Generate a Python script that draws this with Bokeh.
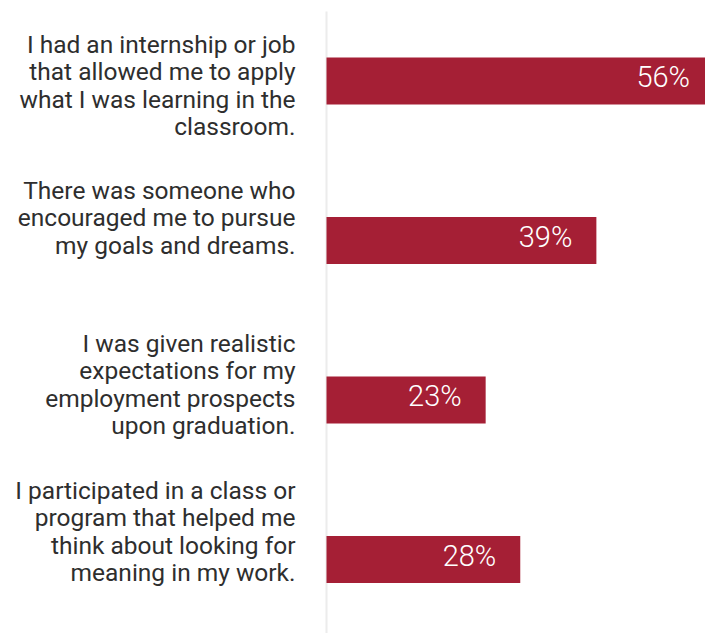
from bokeh.plotting import figure
from bokeh.models import Range1d, ColumnDataSource
from bokeh.core.properties import value
from bokeh.embed import file_html
from bokeh.resources import INLINE

# ---- data ----
categories = [
    "I had an internship or job\nthat allowed me to apply\nwhat I was learning in the\nclassroom.",
    "There was someone who\nencouraged me to pursue\nmy goals and dreams.",
    "I was given realistic\nexpectations for my\nemployment prospects\nupon graduation.",
    "I participated in a class or\nprogram that helped me\nthink about looking for\nmeaning in my work.",
]
percent_values = [56, 39, 23, 28]
value_labels = ["56%", "39%", "23%", "28%"]

# ---- layout (pixels) ----
W, H = 705, 633
PX_PER_UNIT = 6.92
AXIS_PX = 326
ROW_PX = 159.5
FIRST_ROW_PX = 80.5
BAR_PX = 47
LABEL_DY = [4.5, -22.5, -15.5, -28]

BAR_COLOR = "#a51f35"
TEXT_COLOR = "#2e2e2e"

rows = list(range(len(categories)))

src = ColumnDataSource(dict(
    y=rows, v=percent_values, cat=categories, vl=value_labels,
    zero=[0] * len(rows), dy=LABEL_DY,
))

x_range = Range1d(-AXIS_PX / PX_PER_UNIT, (W - AXIS_PX) / PX_PER_UNIT)
y_range = Range1d((H - FIRST_ROW_PX) / ROW_PX, -FIRST_ROW_PX / ROW_PX)

p = figure(width=W, height=H, x_range=x_range, y_range=y_range,
           output_backend="svg", toolbar_location=None, min_border=0,
           outline_line_color=None, background_fill_color="white",
           border_fill_color="white")
p.axis.visible = False
p.grid.visible = False

p.segment(x0=0, y0=-(FIRST_ROW_PX - 11) / ROW_PX, x1=0, y1=y_range.start,
          line_color="#ececec", line_width=2)

p.hbar(y="y", left="zero", right="v", height=BAR_PX / ROW_PX, source=src,
       fill_color=BAR_COLOR, line_color=None)

p.text(x="v", y="y", text="vl", source=src, x_offset=-24, y_offset=-4,
       text_align="right", text_baseline="middle", text_color="white",
       text_font=value("Roboto Light"), text_font_size="29px")

p.text(x="zero", y="y", text="cat", source=src, x_offset=-31, y_offset="dy",
       text_align="right", text_baseline="middle", text_color=TEXT_COLOR,
       text_font=value("Roboto"), text_font_size="24.5px", text_line_height=0.95)

open("out.html", "w").write(file_html(p, INLINE))
